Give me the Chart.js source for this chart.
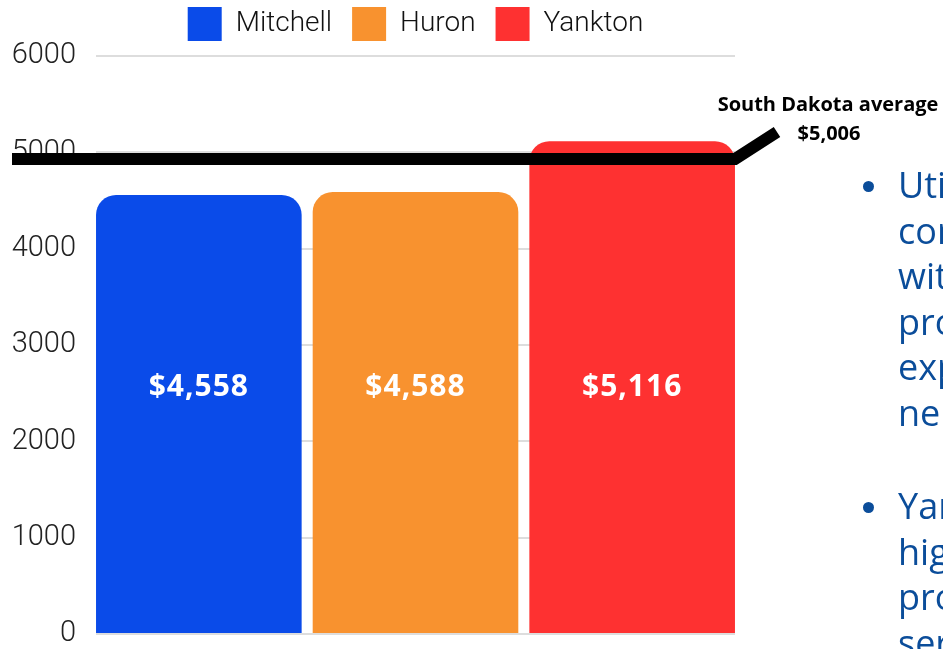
<!DOCTYPE html>
<html>
<head>
<meta charset="utf-8">
<script src="https://cdn.jsdelivr.net/npm/chart.js@4"></script>
<style>
  html, body { margin: 0; padding: 0; background: #fff; overflow: hidden; }
  #wrap { position: relative; width: 943px; height: 649px; overflow: hidden; }
  #chart { position: absolute; left: 0; top: -16px; }
  #notes {
    position: absolute; left: 862px; top: 162px; width: 300px;
    font-family: "Open Sans", sans-serif; font-size: 36px; line-height: 45.5px;
    color: #0b4d9a; margin: 0; padding: 0; list-style: none;
  }
  #notes li { position: relative; padding-left: 36px; margin-bottom: 48px; }
  #notes li::before {
    content: ""; position: absolute; left: 1px; top: 19px;
    width: 11px; height: 11px; border-radius: 50%; background: #0b4d9a;
  }
</style>
</head>
<body>
<div id="wrap">
  <canvas id="chart" width="943" height="665"></canvas>
  <ul id="notes">
    <li>Utilization<br>comparable<br>with<br>providers<br>expected<br>ne w</li>
    <li>Yankton<br>highest<br>provider<br>services</li>
  </ul>
</div>
<script>
var cities = ["Mitchell", "Huron", "Yankton"];
var spending = [4558, 4588, 5116];
var cityColors = ["#0a4be9", "#f8922f", "#fe3131"];
var yTicks = [0, 1000, 2000, 3000, 4000, 5000, 6000];
var avgLabel = ["South Dakota average", "$5,006"];
var avgLineValue = 4930; // where the black line sits in the picture

var avgPlugin = {
	id: 'avgLine',
	afterDatasetsDraw: function (chart) {
		var ctx = chart.ctx, area = chart.chartArea, y = chart.scales.y;
		var py = y.getPixelForValue(avgLineValue);
		ctx.save();
		ctx.strokeStyle = '#000';
		ctx.lineWidth = 12;
		ctx.lineJoin = 'miter';
		ctx.beginPath();
		ctx.moveTo(12, py);
		ctx.lineTo(area.right, py);
		ctx.lineTo(area.right + 42, py - 27);
		ctx.stroke();
		ctx.fillStyle = '#000';
		ctx.font = 'bold 20px "Open Sans"';
		ctx.textAlign = 'center';
		ctx.textBaseline = 'middle';
		ctx.fillText(avgLabel[0], area.right + 93, py - 54);
		ctx.fillText(avgLabel[1], area.right + 94, py - 25);
		ctx.restore();
	}
};

var valuePlugin = {
	id: 'barValues',
	afterDatasetsDraw: function (chart) {
		var ctx = chart.ctx, y = chart.scales.y;
		var ly = y.getPixelForValue(Math.max.apply(null, spending) / 2);
		ctx.save();
		ctx.fillStyle = '#fff';
		ctx.font = 'bold 30px "Open Sans"';
		ctx.letterSpacing = '1px';
		ctx.textAlign = 'center';
		ctx.textBaseline = 'middle';
		chart.data.datasets.forEach(function (ds, i) {
			var bar = chart.getDatasetMeta(i).data[0];
			ctx.fillText('$' + ds.data[0].toLocaleString('en-US'), bar.x, ly);
		});
		ctx.restore();
	}
};

// legend sits a little higher above the plot than Chart.js leaves it
var legendNudge = {
	id: 'legendNudge',
	afterLayout: function (chart) {
		chart.legend.top -= 5;
		chart.legend.bottom -= 5;
	}
};

var datasets = cities.map(function (c, i) {
	return {
		label: c,
		data: [spending[i]],
		backgroundColor: cityColors[i],
		borderRadius: { topLeft: 20, topRight: 20, bottomLeft: 0, bottomRight: 0 },
		borderSkipped: false,
		categoryPercentage: 1.0172,
		barPercentage: 0.949
	};
});

var ctx = document.getElementById('chart').getContext('2d');
var spendChart = new Chart(ctx, {
	type: 'bar',
	data: { labels: [''], datasets: datasets },
	options: {
		responsive: false,
		animation: false,
		layout: { padding: { left: 11, right: 208, top: 0, bottom: 15 } },
		plugins: {
			legend: {
				fullSize: false,
				labels: {
					boxWidth: 34, boxHeight: 34, padding: 20, color: '#111',
					font: { family: 'Roboto', size: 28, weight: '300' }
				}
			},
			tooltip: { enabled: false }
		},
		scales: {
			x: { display: false },
			y: {
				min: 0, max: 6000,
				afterBuildTicks: function (axis) {
					axis.ticks = yTicks.map(function (v) { return { value: v }; });
				},
				afterFit: function (axis) {
					axis.width = 85;
					axis.paddingTop = 72;
					axis.paddingBottom = 0;
				},
				border: { display: false },
				grid: { color: '#dddddd', lineWidth: 2, drawTicks: false },
				ticks: {
					padding: 20, color: '#222',
					font: { family: 'Roboto', size: 29, weight: '300' },
					callback: function (v) { return String(v); }
				}
			}
		}
	},
	plugins: [avgPlugin, valuePlugin, legendNudge]
});
</script>
</body>
</html>
